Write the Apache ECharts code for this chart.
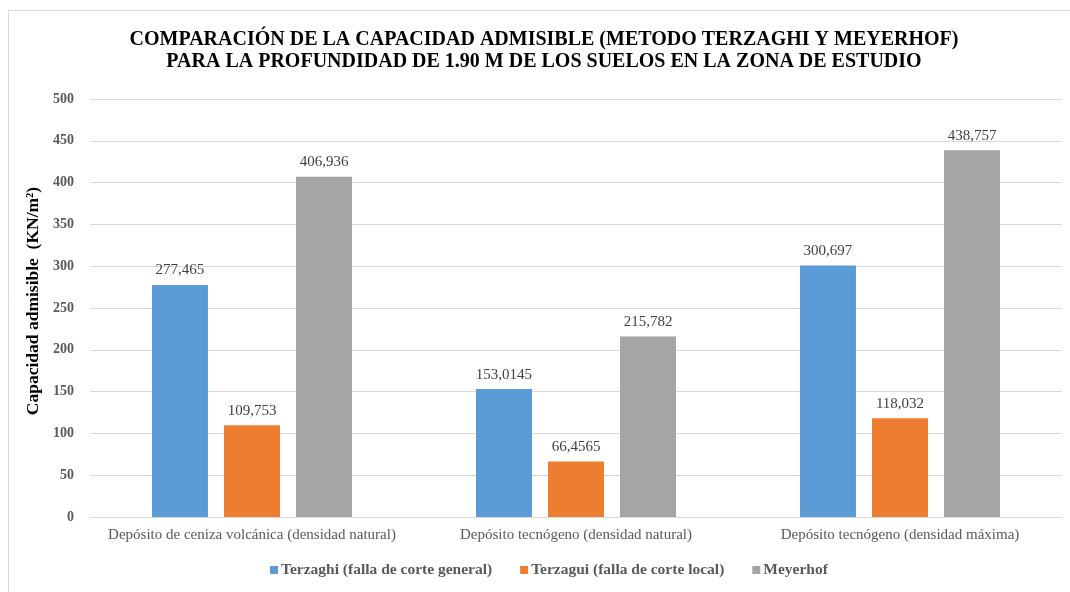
<!DOCTYPE html>
<html>
<head>
<meta charset="utf-8">
<script src="https://cdn.jsdelivr.net/npm/echarts@6/dist/echarts.min.js"></script>
<style>
  html, body { margin: 0; padding: 0; background: #fff; }
  #chart { width: 1070px; height: 592px; }
</style>
</head>
<body>
<div id="chart"></div>
<script>
var categories = [
    'Depósito de ceniza volcánica (densidad natural)',
    'Depósito tecnógeno (densidad natural)',
    'Depósito tecnógeno (densidad máxima)'
];
var terzaghiGeneral = [277.465, 153.0145, 300.697];
var terzaguiLocal = [109.753, 66.4565, 118.032];
var meyerhof = [406.936, 215.782, 438.757];
var seriesNames = ['Terzaghi (falla de corte general)', 'Terzagui (falla de corte local)', 'Meyerhof'];
var colors = ['#5b9bd5', '#ed7d31', '#a5a5a5'];

var serif = '"Liberation Serif", "DejaVu Serif", serif';

// etiquetas con coma decimal
function fmt(p) {
    return String(p.value).replace('.', ',');
}

function makeBar(name, data, color) {
    return {
        name: name,
        type: 'bar',
        data: data,
        barWidth: 56,
        barGap: '28.6%',
        itemStyle: { color: color },
        label: {
            show: true,
            position: 'top',
            distance: 7,
            formatter: fmt,
            fontFamily: serif,
            fontSize: 15,
            color: '#404040'
        }
    };
}

var myChart = echarts.init(document.getElementById('chart'));
myChart.setOption({
    backgroundColor: '#fff',
    animation: false,
    color: colors,
    title: {
        text: 'COMPARACIÓN DE LA CAPACIDAD ADMISIBLE (METODO TERZAGHI Y MEYERHOF)\nPARA LA PROFUNDIDAD DE 1.90 M DE LOS SUELOS EN LA ZONA DE ESTUDIO',
        left: 539,
        textAlign: 'center',
        top: 24,
        textStyle: {
            fontFamily: serif,
            fontWeight: 'bold',
            fontSize: 20,
            lineHeight: 22,
            color: '#000'
        }
    },
    legend: {
        bottom: 9,
        left: 265,
        itemWidth: 8,
        itemHeight: 8,
        itemGap: 28,
        icon: 'rect',
        data: seriesNames,
        textStyle: {
            fontFamily: serif,
            fontWeight: 'bold',
            fontSize: 15.5,
            color: '#595959',
            padding: [0, 0, 0, -2]
        }
    },
    grid: {
        left: 90,
        right: 8,
        top: 99,
        bottom: 75,
        containLabel: false
    },
    xAxis: {
        type: 'category',
        data: categories,
        axisLine: { lineStyle: { color: '#d9d9d9', width: 1 } },
        axisTick: { show: false },
        axisLabel: {
            interval: 0,
            fontFamily: serif,
            fontSize: 15,
            color: '#595959',
            margin: 11
        }
    },
    yAxis: {
        type: 'value',
        min: 0,
        max: 500,
        interval: 50,
        name: 'Capacidad admisible  (KN/m²)',
        nameLocation: 'middle',
        nameGap: 42,
        nameTextStyle: {
            fontFamily: serif,
            fontWeight: 'bold',
            fontSize: 17.5,
            color: '#000',
            padding: [0, 0, 0, 14]
        },
        axisLine: { show: false },
        axisTick: { show: false },
        splitLine: { lineStyle: { color: '#d9d9d9', width: 1 } },
        axisLabel: {
            fontFamily: serif,
            fontWeight: 'bold',
            fontSize: 14,
            color: '#595959',
            margin: 16
        }
    },
    graphic: [{
        type: 'rect',
        shape: { x: 8.5, y: 10.5, width: 1080, height: 600 },
        style: { fill: null, stroke: '#d9d9d9', lineWidth: 1 },
        silent: true
    }],
    series: [
        makeBar(seriesNames[0], terzaghiGeneral, colors[0]),
        makeBar(seriesNames[1], terzaguiLocal, colors[1]),
        makeBar(seriesNames[2], meyerhof, colors[2])
    ]
});
</script>
</body>
</html>
